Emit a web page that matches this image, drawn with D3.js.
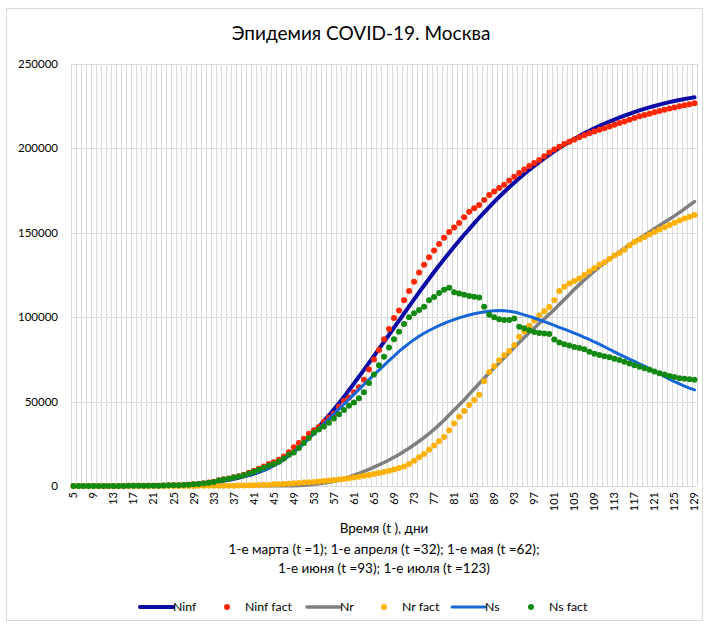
<!DOCTYPE html>
<html>
<head>
<meta charset="utf-8">
<script src="https://cdn.jsdelivr.net/npm/d3@7"></script>
<style>
  body { margin: 0; background: #fff; }
  svg text { font-family: Lato, "Liberation Sans", sans-serif; fill: #000; }
</style>
</head>
<body>
<div id="chart"></div>
<script>
// дни (t), 5..129
var days = d3.range(5, 130);
var xTickLabels = [5, 9, 13, 17, 21, 25, 29, 33, 37, 41, 45, 49, 53, 57, 61, 65, 69, 73, 77, 81,
                   85, 89, 93, 97, 101, 105, 109, 113, 117, 121, 125, 129];
var yTicks = [0, 50000, 100000, 150000, 200000, 250000];

// values in thousands, one per day from t=5 to t=129
var nInf = [
  0,0,0,0,0,0,0,0,0,0,
  0.1,0.1,0.1,0.1,0.1,0.2,0.2,0.3,0.3,0.4,
  0.5,0.6,0.7,0.9,1.1,1.3,1.6,1.9,2.3,2.7,
  3.2,3.7,4.3,5.0,5.7,6.5,7.4,8.4,9.5,10.9,
  12.4,14.1,16.0,18.1,20.4,23.0,25.8,28.8,32.0,35.2,
  38.5,41.9,45.4,49.0,52.8,56.7,60.7,64.7,68.8,72.9,
  77.0,81.2,85.4,89.6,93.8,98.0,102.2,106.4,110.6,114.7,
  118.8,122.8,126.8,130.6,134.4,138.1,141.7,145.3,148.8,152.2,
  155.6,158.9,162.1,165.2,168.3,171.3,174.2,177.0,179.7,182.3,
  184.8,187.3,189.6,191.9,194.1,196.2,198.3,200.2,202.1,203.9,
  205.6,207.3,208.9,210.4,211.9,213.3,214.6,215.9,217.1,218.3,
  219.4,220.5,221.5,222.5,223.4,224.3,225.1,225.9,226.7,227.4,
  228.1,228.7,229.3,229.8,230.3
];
var nInfFact = [
  0,0,0,0,0,0,0,0,0,0,
  0,0.1,0.1,0.1,0.1,0.1,0.1,0.2,0.3,0.4,
  0.4,0.5,0.6,0.8,1.0,1.2,1.6,2.0,2.5,3.4,
  4.0,4.5,5.2,5.8,6.7,7.8,9.0,10.2,11.5,13.0,
  14.0,15.5,17.5,20.0,23.0,25.5,28.0,31.0,33.0,35.0,
  38.0,40.5,43.0,47.0,50.5,52.5,55.5,58.5,63.0,69.0,
  75.0,80.5,87.0,93.0,99.5,104.0,110.0,115.5,121.0,126.5,
  131.0,135.5,139.5,143.4,147.0,150.5,153.2,155.8,159.2,162.5,
  164.5,166.5,169.5,172.4,174.5,176.5,178.5,181.0,183.2,185.5,
  187.5,189.5,191.3,193.1,195.3,197.5,199.3,201.0,202.6,204.0,
  205.3,206.6,207.8,209.0,210.0,211.0,212.0,213.0,214.0,215.0,
  216.0,217.0,218.0,219.0,219.8,220.6,221.4,222.2,222.9,223.6,
  224.3,225.0,225.6,226.2,226.8
];
var nR = [
  0,0,0,0,0,0,0,0,0,0,
  0,0,0,0,0,0,0,0,0,0,
  0,0,0,0,0,0,0,0,0,0,
  0,0,0,0,0,0,0.1,0.1,0.1,0.1,
  0.1,0.1,0.2,0.2,0.2,0.3,0.5,0.7,1.0,1.3,
  1.7,2.2,2.8,3.5,4.3,5.3,6.4,7.5,8.7,9.9,
  11.2,12.5,13.9,15.4,17.0,18.7,20.5,22.4,24.4,26.5,
  28.7,31.0,33.5,36.2,39.0,42.0,45.0,48.0,51.0,54.3,
  57.5,60.7,63.8,66.9,70.0,73.0,76.0,79.0,82.0,85.0,
  88.0,90.8,93.6,96.4,99.0,101.7,104.5,107.5,110.5,113.5,
  116.5,119.3,122.0,124.7,127.3,129.8,132.2,134.4,136.5,138.7,
  140.8,142.8,144.8,146.7,148.6,150.5,152.4,154.3,156.2,158.1,
  160.0,162.0,164.2,166.4,168.5
];
var nRFact = [
  0,0,0,0,0,0,0,0,0,0,
  0,0,0,0,0,0,0,0,0,0,
  0,0,0,0,0,0.1,0.1,0.1,0.1,0.1,
  0.2,0.2,0.2,0.3,0.3,0.4,0.5,0.6,0.7,0.8,
  1.0,1.1,1.2,1.4,1.6,1.8,2.0,2.2,2.4,2.6,
  2.9,3.2,3.5,3.8,4.2,4.6,5.0,5.5,6.0,6.5,
  7.1,7.7,8.3,9.0,9.8,10.6,11.5,13.0,15.0,17.0,
  19.0,21.5,24.0,26.5,29.0,33.0,37.0,41.0,44.5,48.0,
  51.0,54.0,62.0,67.5,71.0,74.5,77.5,80.0,83.5,88.4,
  91.5,95.0,98.0,101.0,103.5,106.0,110.0,115.5,118.0,120.0,
  121.5,123.0,125.0,127.0,129.0,131.0,132.5,134.5,136.5,138.0,
  140.0,142.5,144.5,146.0,147.5,149.0,150.5,152.0,153.3,154.6,
  156.0,157.3,158.5,159.5,160.5
];
var nS = [
  0,0,0,0,0,0,0,0,0,0,
  0.1,0.1,0.1,0.1,0.1,0.2,0.2,0.3,0.3,0.4,
  0.5,0.6,0.7,0.9,1.1,1.3,1.6,1.9,2.3,2.7,
  3.2,3.7,4.3,5.0,5.7,6.5,7.3,8.3,9.4,10.8,
  12.3,14.0,15.8,17.9,20.2,22.7,25.3,28.1,31.0,33.9,
  36.8,39.7,42.6,45.5,48.5,51.4,54.3,57.2,60.1,63.0,
  65.8,68.6,71.5,74.3,77.0,79.7,82.2,84.5,86.7,88.7,
  90.5,92.1,93.6,95.0,96.3,97.5,98.6,99.6,100.5,101.3,
  102.0,102.6,103.1,103.5,103.8,103.9,103.8,103.5,103.1,102.3,
  101.4,100.5,99.5,98.5,97.4,96.3,95.2,94.0,92.9,91.8,
  90.6,89.4,88.1,86.8,85.4,84.0,82.5,81.0,79.5,78.0,
  76.6,75.2,73.8,72.4,71.0,69.5,68.0,66.5,64.9,63.3,
  61.8,60.5,59.2,58.0,56.9
];
var nSFact = [
  0,0,0,0,0,0,0,0,0,0,
  0,0.1,0.1,0.1,0.1,0.1,0.1,0.2,0.3,0.4,
  0.4,0.5,0.6,0.8,1.0,1.2,1.5,1.9,2.4,3.2,
  3.8,4.3,5.0,5.6,6.4,7.4,8.5,9.6,10.8,12.2,
  13.0,14.4,16.3,18.5,19.8,22.5,25.5,28.5,31.5,33.5,
  35.3,37.5,40.0,42.5,45.0,47.5,49.5,52.0,55.5,61.0,
  66.0,71.5,76.5,82.0,87.0,91.4,96.0,100.0,102.3,104.3,
  106.2,110.0,112.0,114.3,116.3,117.5,114.8,114.0,113.3,112.6,
  112.1,111.7,106.2,101.5,100.0,98.8,98.4,98.3,99.3,94.4,
  93.5,92.3,91.2,90.6,90.3,90.0,86.8,85.0,84.0,83.2,
  82.4,81.8,81.0,79.5,78.4,77.6,76.9,76.2,75.4,74.6,
  73.6,72.6,71.6,70.7,69.8,68.8,67.8,66.8,66.0,65.2,
  64.5,63.9,63.6,63.3,62.9
];

var series = [
  { name: "Ninf",      values: nInf,     type: "line", color: "#0a0aa6", width: 4 },
  { name: "Ninf fact", values: nInfFact, type: "dots", color: "#ff2600" },
  { name: "Nr",        values: nR,       type: "line", color: "#7f7f7f", width: 3.5 },
  { name: "Nr fact",   values: nRFact,   type: "dots", color: "#ffb000" },
  { name: "Ns",        values: nS,       type: "line", color: "#1766d8", width: 3 },
  { name: "Ns fact",   values: nSFact,   type: "dots", color: "#128a12" }
];

var width = 707, height = 624;
var plotLeft = 71, plotRight = 697, plotTop = 64, plotBottom = 486;

var svg = d3.select("#chart").append("svg")
  .attr("width", width)
  .attr("height", height);

svg.append("rect")
  .attr("x", 6.5).attr("y", 8.5)
  .attr("width", 696).attr("height", 612)
  .attr("fill", "#fff")
  .attr("stroke", "#d9d9d9");

var x = d3.scaleBand()
  .domain(days)
  .range([plotLeft, plotRight]);
var cx = function(d) { return x(d) + x.bandwidth() / 2; };

var y = d3.scaleLinear()
  .domain([0, 250000])
  .range([plotBottom, plotTop]);

// gridlines
var grid = svg.append("g").attr("stroke", "#d9d9d9").attr("stroke-width", 1);
grid.selectAll("line.v")
  .data(days.concat(["end"]))
  .enter().append("line")
    .attr("class", "v")
    .attr("x1", function(d) { return Math.round(d === "end" ? plotRight : x(d)) + 0.5; })
    .attr("x2", function(d) { return Math.round(d === "end" ? plotRight : x(d)) + 0.5; })
    .attr("y1", plotTop)
    .attr("y2", plotBottom);
grid.selectAll("line.h")
  .data(yTicks)
  .enter().append("line")
    .attr("class", "h")
    .attr("x1", plotLeft)
    .attr("x2", plotRight)
    .attr("y1", function(d) { return Math.round(y(d)) + 0.5; })
    .attr("y2", function(d) { return Math.round(y(d)) + 0.5; });

// y labels
svg.append("g").selectAll("text")
  .data(yTicks)
  .enter().append("text")
    .attr("x", 58)
    .attr("y", function(d) { return y(d); })
    .attr("dy", "0.35em")
    .attr("text-anchor", "end")
    .attr("font-size", "11.5px")
    .text(function(d) { return d; });

// x labels (rotated)
svg.append("g").selectAll("text")
  .data(xTickLabels)
  .enter().append("text")
    .attr("transform", function(d) { return "translate(" + cx(d) + "," + 492 + ") rotate(-90)"; })
    .attr("dy", "0.35em")
    .attr("text-anchor", "end")
    .attr("font-size", "11px")
    .text(function(d) { return d; });

// series
var plot = svg.append("g");
series.forEach(function(s) {
  var pts = days.map(function(d, i) { return [d, s.values[i] * 1000]; });
  if (s.type === "line") {
    plot.append("path")
      .datum(pts)
      .attr("fill", "none")
      .attr("stroke", s.color)
      .attr("stroke-width", s.width)
      .attr("stroke-linejoin", "round")
      .attr("stroke-linecap", "round")
      .attr("d", d3.line()
        .x(function(p) { return cx(p[0]); })
        .y(function(p) { return y(p[1]); }));
  } else {
    plot.append("g").selectAll("circle")
      .data(pts)
      .enter().append("circle")
        .attr("cx", function(p) { return cx(p[0]); })
        .attr("cy", function(p) { return y(p[1]); })
        .attr("r", 3)
        .attr("fill", s.color);
  }
});

// titles
svg.append("text")
  .attr("x", 361).attr("y", 33)
  .attr("dy", "0.35em")
  .attr("text-anchor", "middle")
  .attr("font-size", "19px")
  .text("Эпидемия COVID-19. Москва");

var axisTitle = ["Время (t ), дни",
                 "1-е марта (t =1); 1-е апреля (t =32); 1-е мая (t =62);",
                 "1-е июня (t =93); 1-е июля (t =123)"];
var axisTitleY = [528, 549, 568];
svg.append("g").selectAll("text")
  .data(axisTitle)
  .enter().append("text")
    .attr("x", 384)
    .attr("y", function(d, i) { return axisTitleY[i]; })
    .attr("dy", "0.35em")
    .attr("text-anchor", "middle")
    .attr("font-size", "13.5px")
    .text(function(d) { return d; });

// legend
var legendX = [140, 227, 307, 384, 452, 531];
var legendY = 607;
var legend = svg.append("g");
series.forEach(function(s, i) {
  var lx = legendX[i];
  if (s.type === "line") {
    legend.append("line")
      .attr("x1", lx).attr("x2", lx + 33)
      .attr("y1", legendY).attr("y2", legendY)
      .attr("stroke", s.color)
      .attr("stroke-width", s.width)
      .attr("stroke-linecap", "round");
    legend.append("text")
      .attr("x", lx + 33).attr("y", legendY)
      .attr("dy", "0.35em")
      .attr("font-size", "12.3px")
      .text(s.name);
  } else {
    legend.append("circle")
      .attr("cx", lx).attr("cy", legendY)
      .attr("r", 3)
      .attr("fill", s.color);
    legend.append("text")
      .attr("x", lx + 18).attr("y", legendY)
      .attr("dy", "0.35em")
      .attr("font-size", "12.3px")
      .text(s.name);
  }
});
</script>
</body>
</html>
